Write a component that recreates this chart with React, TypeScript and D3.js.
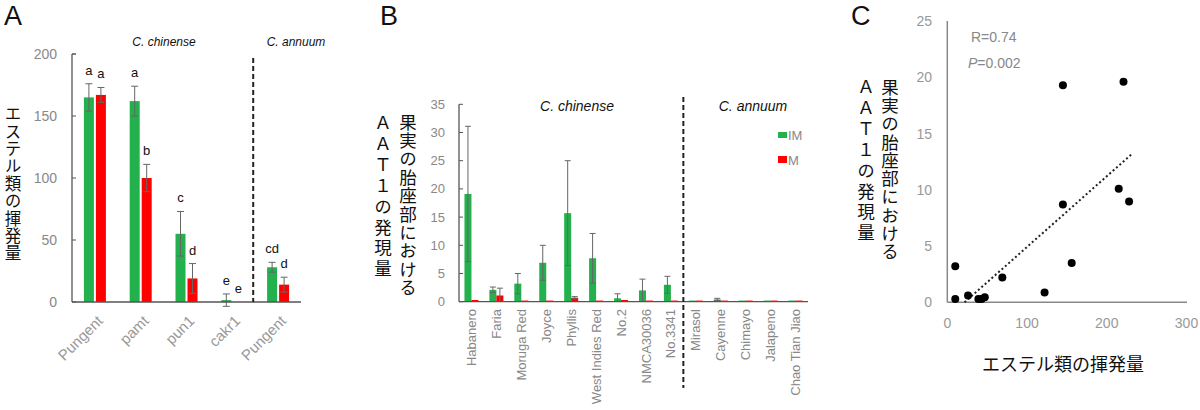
import React from "react";
import * as d3 from "d3";

// ---------- Panel A data ----------
const aCategories = ["Pungent", "pamt", "pun1", "cakr1", "Pungent"];
const aIM = [165, 162, 55, 1.5, 28];
const aIMerr = [11, 12, 18, 5, 4];
const aM = [167, 100, 19, 0, 14];
const aMerr = [6, 11, 12, 0, 6];
const aIMletters = ["a", "a", "c", "e", "cd"];
const aMletters = ["a", "b", "d", "e", "d"];
const aTicks = [0, 50, 100, 150, 200];

// ---------- Panel B data ----------
const bCategories = [
  "Habanero", "Faria", "Moruga Red", "Joyce", "Phyllis", "West Indies Red",
  "No.2", "NMCA30036", "No.3341", "Mirasol", "Cayenne", "Chimayo", "Jalapeno", "Chao Tian Jiao",
];
const bIM = [19.1, 2.1, 3.2, 6.9, 15.7, 7.7, 0.6, 2.0, 3.0, 0.2, 0.4, 0.2, 0.2, 0.2];
const bIMerr = [12, 0.5, 1.8, 3.1, 9.3, 4.4, 0.8, 2.0, 1.5, 0, 0.2, 0, 0, 0];
const bM = [0.3, 1.1, 0.2, 0.2, 0.7, 0.2, 0.3, 0.2, 0.2, 0.2, 0.2, 0.2, 0.2, 0.2];
const bMerr = [0, 1.3, 0, 0, 0.2, 0, 0, 0, 0, 0, 0, 0, 0, 0];
const bTicks = [0, 5, 10, 15, 20, 25, 30, 35];

// ---------- Panel C data ----------
const cX = [10, 10, 26, 39, 43, 47, 69, 122, 145, 145, 156, 215, 221, 228];
const cY = [3.2, 0.3, 0.6, 0.3, 0.3, 0.45, 2.2, 0.86, 19.3, 8.7, 3.5, 10.1, 19.6, 8.95];
const cTrendX = [21.7, 231];
const cTrendY = [0, 13.15];
const cXTicks = [0, 100, 200, 300];
const cYTicks = [0, 5, 10, 15, 20, 25];

const GREEN = "#22b14c";
const RED = "#ff0000";
const LAT = "'Liberation Sans', Arial, sans-serif";
const JP = "'Noto Sans CJK JP', sans-serif";

// vertical Japanese text: x = column centre, y0 = centre of first character
function VText({ text, x, y0, step, size }: { text: string; x: number; y0: number; step: number; size: number }) {
  return (
    <text x={x} y={y0 - size / 2} fontFamily={JP} fontSize={size} fill="#111"
      style={{ writingMode: "vertical-rl", textOrientation: "upright", letterSpacing: `${step - size}px` } as any}>
      {text}
    </text>
  );
}

function PanelA() {
  const x = d3.scaleBand<number>().domain(d3.range(aCategories.length)).range([72, 301]);
  const y = d3.scaleLinear().domain([0, 200]).range([302, 54]);
  const bw = 10;
  const err = (cx: number, v: number, e: number, key: string) =>
    e > 0 ? (
      <g key={key} stroke="#666" strokeWidth={1}>
        <line x1={cx} x2={cx} y1={y(v - e)} y2={y(v + e)} />
        <line x1={cx - 3.5} x2={cx + 3.5} y1={y(v + e)} y2={y(v + e)} />
        <line x1={cx - 3.5} x2={cx + 3.5} y1={y(v - e)} y2={y(v - e)} />
      </g>
    ) : null;
  return (
    <g>
      <text x={4} y={25} fontFamily={LAT} fontSize={27} fill="#111">A</text>
      <text x={164} y={46} textAnchor="middle" fontFamily={LAT} fontStyle="italic" fontSize={12} fill="#111">C. chinense</text>
      <text x={296} y={46} textAnchor="middle" fontFamily={LAT} fontStyle="italic" fontSize={12} fill="#111">C. annuum</text>
      <VText text="エステル類の揮発量" x={13} y0={114} step={17.4} size={16.5} />
      {aTicks.map((t) => (
        <g key={t}>
          <line x1={72} x2={76} y1={y(t)} y2={y(t)} stroke="#555" />
          <text x={57} y={y(t)} textAnchor="end" dominantBaseline="central" fontFamily={LAT} fontSize={14} fill="#888">{t}</text>
        </g>
      ))}
      {aCategories.map((c, i) => {
        const cx = x(i)! + x.bandwidth() / 2;
        const gx = cx - 6;
        const rx = cx + 6;
        return (
          <g key={i}>
            <rect x={gx - bw / 2} y={y(aIM[i])} width={bw} height={y(0) - y(aIM[i])} fill={GREEN} />
            <rect x={rx - bw / 2} y={y(aM[i])} width={bw} height={y(0) - y(aM[i])} fill={RED} />
            {err(gx, aIM[i], aIMerr[i], "g")}
            {err(rx, aM[i], aMerr[i], "r")}
            <text x={gx} y={y(aIM[i] + aIMerr[i]) - 9} textAnchor="middle" fontFamily={LAT} fontSize={13} fill="#111">{aIMletters[i]}</text>
            <text x={rx} y={y(aM[i] + aMerr[i]) - 9} textAnchor="middle" fontFamily={LAT} fontSize={13} fill="#111">{aMletters[i]}</text>
            <text transform={`translate(${cx + 5},${318}) rotate(-45)`} textAnchor="end" dominantBaseline="central"
              fontFamily={LAT} fontSize={15} fill="#999">{c}</text>
          </g>
        );
      })}
      <line x1={72} x2={72} y1={54} y2={302} stroke="#555" strokeWidth={1.3} />
      <line x1={72} x2={301} y1={302} y2={302} stroke="#555" strokeWidth={1.3} />
      <line x1={72} x2={76} y1={54} y2={54} stroke="#555" />
      <line x1={x(4)! - 2} x2={x(4)! - 2} y1={58} y2={302} stroke="#222" strokeWidth={2} strokeDasharray="5,3" />
    </g>
  );
}

function PanelB() {
  const x = d3.scaleBand<number>().domain(d3.range(bCategories.length)).range([459, 808]);
  const y = d3.scaleLinear().domain([0, 35]).range([301.7, 104.3]);
  const bw = 7;
  const err = (cx: number, v: number, e: number, key: string) =>
    e > 0 ? (
      <g key={key} stroke="#666" strokeWidth={1}>
        <line x1={cx} x2={cx} y1={y(Math.max(0, v - e))} y2={y(v + e)} />
        <line x1={cx - 3} x2={cx + 3} y1={y(v + e)} y2={y(v + e)} />
        {v - e > 0 ? <line x1={cx - 3} x2={cx + 3} y1={y(v - e)} y2={y(v - e)} /> : null}
      </g>
    ) : null;
  return (
    <g>
      <text x={380} y={25} fontFamily={LAT} fontSize={27} fill="#111">B</text>
      <text x={577} y={111} textAnchor="middle" fontFamily={LAT} fontStyle="italic" fontSize={14} fill="#111">C. chinense</text>
      <text x={753} y={111} textAnchor="middle" fontFamily={LAT} fontStyle="italic" fontSize={14} fill="#111">C. annuum</text>
      <VText text="果実の胎座部における" x={408} y0={122} step={18.4} size={17.5} />
      <VText text="ＡＡＴ１の発現量" x={383} y0={123} step={20.8} size={17.5} />
      {bTicks.map((t) => (
        <g key={t}>
          <line x1={459} x2={463} y1={y(t)} y2={y(t)} stroke="#555" />
          <text x={445} y={y(t)} textAnchor="end" dominantBaseline="central" fontFamily={LAT} fontSize={13} fill="#888">{t}</text>
        </g>
      ))}
      {bCategories.map((c, i) => {
        const cx = x(i)! + x.bandwidth() / 2;
        const gx = cx - 3.5;
        const rx = cx + 3.5;
        return (
          <g key={i}>
            <rect x={gx - bw / 2} y={y(bIM[i])} width={bw} height={y(0) - y(bIM[i])} fill={GREEN} />
            <rect x={rx - bw / 2} y={y(bM[i])} width={bw} height={y(0) - y(bM[i])} fill={RED} />
            {err(gx, bIM[i], bIMerr[i], "g")}
            {err(rx, bM[i], bMerr[i], "r")}
            <text transform={`translate(${cx},${309}) rotate(-90)`} textAnchor="end" dy="0.35em"
              fontFamily={LAT} fontSize={13} fill="#888">{c}</text>
          </g>
        );
      })}
      <line x1={459} x2={459} y1={104.3} y2={301.7} stroke="#555" strokeWidth={1.3} />
      <line x1={459} x2={808} y1={301.7} y2={301.7} stroke="#555" strokeWidth={1.3} />
      <line x1={x(9)!} x2={x(9)!} y1={97} y2={388} stroke="#222" strokeWidth={2} strokeDasharray="5,3" />
      <rect x={778} y={132} width={9} height={6} fill={GREEN} />
      <text x={788} y={135} dominantBaseline="central" fontFamily={LAT} fontSize={13} fill="#888">IM</text>
      <rect x={778} y={156} width={9} height={7} fill={RED} />
      <text x={788} y={160} dominantBaseline="central" fontFamily={LAT} fontSize={13} fill="#888">M</text>
    </g>
  );
}

function PanelC() {
  const x = d3.scaleLinear().domain([0, 300]).range([947.3, 1186.5]);
  const y = d3.scaleLinear().domain([0, 25]).range([302.3, 21]);
  const line = d3.line<number>().x((d, i) => x(cTrendX[i])).y((d, i) => y(cTrendY[i]));
  return (
    <g>
      <text x={851} y={25} fontFamily={LAT} fontSize={27} fill="#111">C</text>
      {cYTicks.map((t) => (
        <text key={t} x={932} y={y(t)} textAnchor="end" dominantBaseline="central" fontFamily={LAT} fontSize={14} fill="#999">{t}</text>
      ))}
      {cXTicks.map((t) => (
        <text key={t} x={x(t)} y={323} textAnchor="middle" dominantBaseline="central" fontFamily={LAT} fontSize={14} fill="#999">{t}</text>
      ))}
      <line x1={947.3} x2={947.3} y1={21} y2={302.3} stroke="#888" strokeWidth={1.5} />
      <line x1={947.3} x2={1187} y1={302.3} y2={302.3} stroke="#888" strokeWidth={1.5} />
      <path d={line(cTrendX) || ""} fill="none" stroke="#222" strokeWidth={2} strokeDasharray="2,2.5" />
      {cX.map((v, i) => (
        <circle key={i} cx={x(v)} cy={y(cY[i])} r={4} fill="#000" />
      ))}
      <text x={971} y={42} fontFamily={LAT} fontSize={14} fill="#888">R=0.74</text>
      <text x={968} y={68} fontFamily={LAT} fontSize={14} fill="#888"><tspan fontStyle="italic">P</tspan>=0.002</text>
      <VText text="果実の胎座部における" x={890} y0={87} step={18.3} size={17.5} />
      <VText text="ＡＡＴ１の発現量" x={866} y0={87} step={20.8} size={17.5} />
      <text x={1063} y={371} textAnchor="middle" fontFamily={JP} fontSize={18} fill="#111">エステル類の揮発量</text>
    </g>
  );
}

export default function App() {
  return (
    <svg width={1200} height={410} style={{ position: "absolute", left: 0, top: 0, background: "#fff" }}>
      <rect width={1200} height={410} fill="#fff" />
      <PanelA />
      <PanelB />
      <PanelC />
    </svg>
  );
}
